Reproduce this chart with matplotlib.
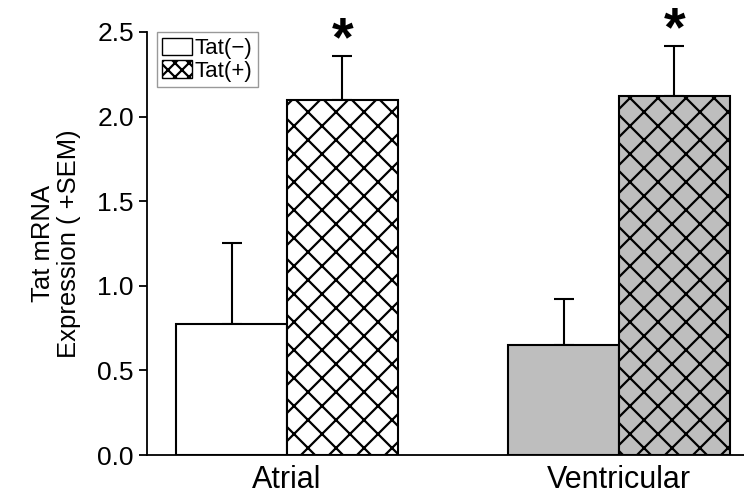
import matplotlib.pyplot as plt
import numpy as np
from matplotlib.patches import Patch

# render at 84 dpi so the 'x' hatch spacing matches the reference (~14 px)
DPI = 84
k = 100 / DPI

plt.rcParams['font.family'] = ['Liberation Sans', 'DejaVu Sans']
plt.rcParams['hatch.linewidth'] = 1.6 * k

groups = ['Atrial', 'Ventricular']
tat_neg = [0.775, 0.65]
tat_neg_sem = [0.48, 0.27]
tat_pos = [2.10, 2.12]
tat_pos_sem = [0.26, 0.30]
fill_colors = ['white', '#bebebe']

fig = plt.figure(figsize=(744 / DPI, 495 / DPI), dpi=DPI)
ax = fig.add_axes([0.1976, 0.0808, 0.8024, 0.8546])

x = np.arange(len(groups))
w = 0.334

for i in range(len(groups)):
    ax.bar(x[i] - w / 2, tat_neg[i], width=w, color=fill_colors[i],
           edgecolor='black', linewidth=1.5 * k, zorder=2)
    ax.bar(x[i] + w / 2, tat_pos[i], width=w, color=fill_colors[i],
           edgecolor='black', linewidth=1.5 * k, hatch='x', zorder=2)

ax.errorbar(x - w / 2, tat_neg, yerr=[np.zeros(2), tat_neg_sem], fmt='none',
            ecolor='black', elinewidth=1.5 * k, capsize=7 * k,
            capthick=1.5 * k, zorder=1)
ax.errorbar(x + w / 2, tat_pos, yerr=[np.zeros(2), tat_pos_sem], fmt='none',
            ecolor='black', elinewidth=1.5 * k, capsize=7 * k,
            capthick=1.5 * k, zorder=1)

# significance marks
for i in range(len(groups)):
    ax.text(x[i] + w / 2, tat_pos[i] + tat_pos_sem[i], '*',
            ha='center', va='baseline', fontsize=40 * k, fontweight='bold',
            clip_on=False)

ax.set_xlim(-0.4217, 1.3765)
ax.set_ylim(0, 2.5)
ax.set_yticks([0.0, 0.5, 1.0, 1.5, 2.0, 2.5])
ax.set_yticklabels(['0.0', '0.5', '1.0', '1.5', '2.0', '2.5'])
ax.set_xticks(x)
ax.set_xticklabels(groups)
ax.tick_params(axis='x', length=0, labelsize=22 * k, pad=7 * k)
ax.tick_params(axis='y', direction='out', length=6 * k, width=1.3 * k,
               labelsize=19 * k, pad=3.5 * k)
ax.set_ylabel('Tat mRNA\nExpression ( +SEM)', fontsize=18.5 * k,
              labelpad=12 * k, linespacing=1.1)

for s in ['top', 'right']:
    ax.spines[s].set_visible(False)
for s in ['left', 'bottom']:
    ax.spines[s].set_linewidth(1.3 * k)

handles = [Patch(facecolor='white', edgecolor='black', linewidth=1 * k),
           Patch(facecolor='white', edgecolor='black', linewidth=1 * k,
                 hatch='xx')]
leg = ax.legend(handles, ['Tat(\u2212)', 'Tat(+)'], loc='upper left',
                bbox_to_anchor=(0.016, 1.0), fontsize=16 * k, frameon=True,
                fancybox=False, edgecolor='#808080', handlelength=1.35,
                handleheight=0.85, handletextpad=0.1, borderpad=0.25,
                labelspacing=0.05, borderaxespad=0)
leg.get_frame().set_linewidth(1 * k)

fig.savefig('out.png', dpi=DPI)
